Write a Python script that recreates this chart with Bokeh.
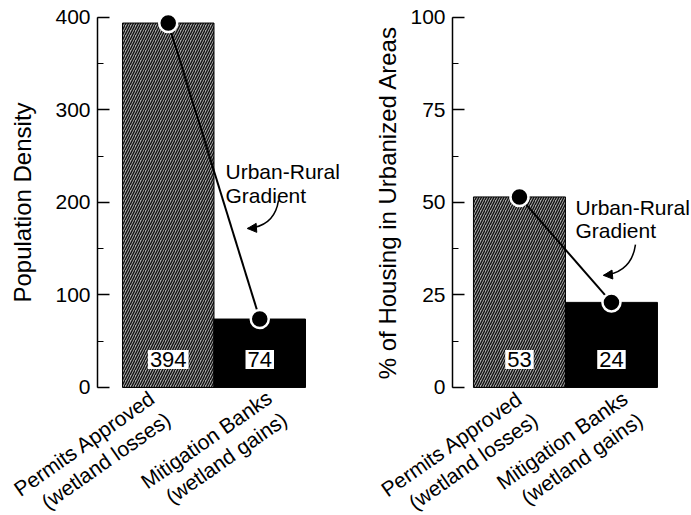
from bokeh.plotting import figure
from bokeh.layouts import row
from bokeh.models import Label, SingleIntervalTicker, Arrow, NormalHead, Range1d
from bokeh.embed import file_html
from bokeh.resources import INLINE
from bokeh.core.properties import value

# ---- data ----
categories = ["Permits Approved\n(wetland losses)", "Mitigation Banks\n(wetland gains)"]
cat_x = [1, 2]
density_values = [394, 74]
density_labels = ["394", "74"]
housing_values = [51.5, 23]
housing_labels = ["53", "24"]
annotation_lines = ["Urban-Rural", "Gradient"]

FONT = "Liberation Sans"
FONT_VALUE = value(FONT)


def make_panel(values, labels, ylabel, axis_max, interval, width, x_range, y_range,
               axis_x, axis_standoff, text_xy, arc, arrow_seg, xlab_offsets, xlab_y):
    p = figure(width=width, height=515, output_backend="svg", toolbar_location=None,
               x_range=Range1d(*x_range), y_range=Range1d(*y_range),
               min_border_left=0, min_border_right=0,
               min_border_top=2, min_border_bottom=0)
    p.outline_line_color = None
    p.xgrid.grid_line_color = None
    p.ygrid.grid_line_color = None
    p.xaxis.visible = False

    ya = p.yaxis[0]
    ya.fixed_location = axis_x
    ya.ticker = SingleIntervalTicker(interval=interval, num_minor_ticks=2)
    ya.bounds = (0, axis_max)
    ya.axis_line_width = 1.5
    ya.major_tick_in = 12
    ya.major_tick_out = 0
    ya.major_tick_line_width = 1.5
    ya.minor_tick_in = 6
    ya.minor_tick_out = 0
    ya.minor_tick_line_width = 1.2
    ya.major_label_text_font = FONT
    ya.major_label_text_font_size = "21px"
    ya.major_label_text_color = "black"
    ya.major_label_standoff = 7
    ya.axis_label = ylabel
    ya.axis_label_text_font = FONT
    ya.axis_label_text_font_size = "24px"
    ya.axis_label_text_font_style = "normal"
    ya.axis_label_text_color = "black"
    ya.axis_label_standoff = axis_standoff

    # bars
    p.vbar(x=[cat_x[0]], top=[values[0]], width=1.0, fill_color="#a9a9a9",
           hatch_pattern="/", hatch_color="#111111", hatch_scale=5, hatch_weight=1.4,
           line_color="black", line_width=1)
    p.vbar(x=[cat_x[1]], top=[values[1]], width=1.0, fill_color="black",
           line_color="black", line_width=1)

    # gradient line + dots
    p.line(cat_x, values, line_color="black", line_width=2)
    p.scatter(cat_x, values, size=18, fill_color="black", line_color="white",
              line_width=2.5)

    # value boxes
    for xv, lab in zip(cat_x, labels):
        p.add_layout(Label(x=xv, y=0, y_offset=28, text=lab, text_align="center",
                           text_baseline="middle", text_font=FONT,
                           text_font_size="22px", text_color="black",
                           background_fill_color="white", padding=2))

    # annotation text
    tx, ty1, ty2 = text_xy
    p.text(x=[tx, tx], y=[ty1, ty2], text=annotation_lines, text_font=FONT_VALUE,
           text_font_size="21px", text_color="black", text_align="left",
           text_baseline="alphabetic")

    # curved arrow
    x0, y0, cx, cy, x1, y1 = arc
    p.quadratic(x0=[x0], y0=[y0], cx=[cx], cy=[cy], x1=[x1], y1=[y1],
                line_color="black", line_width=1.5)
    sx, sy = arrow_seg
    p.add_layout(Arrow(x_start=sx, y_start=sy, x_end=x1, y_end=y1,
                       line_color="black", line_width=1.5,
                       end=NormalHead(size=9, fill_color="black", line_color="black")))

    # rotated category labels under the bars
    p.text(x=cat_x, y=[xlab_y, xlab_y], text=categories, x_offset=list(xlab_offsets),
           angle=35, angle_units="deg", text_align="right", text_baseline="top",
           text_font=FONT_VALUE, text_font_size="21px", text_line_height=1.15,
           text_color="black")
    return p


left = make_panel(density_values, density_labels, "Population Density", 400, 100,
                  345, (-0.833, 2.937), (-138.4, 416.2), 0.227, 16,
                  (1.626, 233.5, 207.6),
                  (2.205, 202.2, 2.161, 174.0, 1.866, 171.9), (1.910, 172.2),
                  (-22, 3), 1.7)
right = make_panel(housing_values, housing_labels, "% of Housing in Urbanized Areas",
                   100, 25, 346, (-0.891, 2.870), (-34.6, 104.05), 0.272, 6,
                   (1.609, 48.6, 42.4),
                   (2.261, 38.6, 2.218, 31.1, 1.913, 30.3), (1.957, 30.4),
                   (-6, 7), 0.25)

layout = row(left, right)
open("out.html", "w").write(file_html(layout, INLINE))
